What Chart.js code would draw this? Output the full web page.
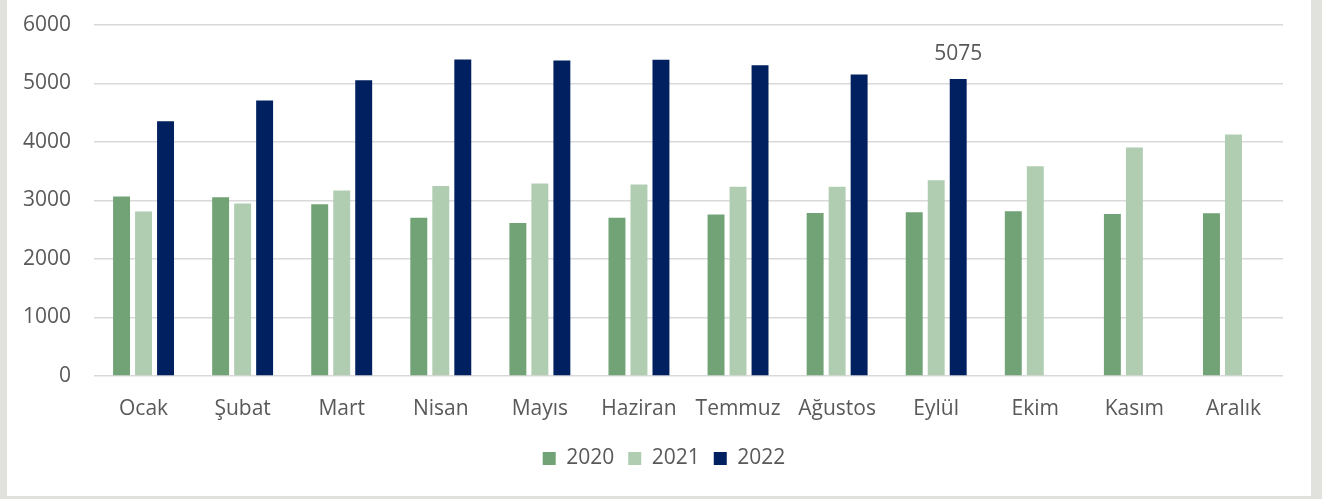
<!DOCTYPE html>
<html>
<head>
<meta charset="utf-8">
<script src="https://cdn.jsdelivr.net/npm/chart.js@4/dist/chart.umd.min.js"></script>
<style>
  html, body { margin: 0; padding: 0; background: #e1e1dd; width: 1322px; height: 499px; overflow: hidden; }
  #card { position: absolute; left: 7px; top: 0; width: 1304px; height: 496px; background: #ffffff; }
  canvas { display: block; }
</style>
</head>
<body>
<div id="card"><canvas id="c" width="1304" height="496"></canvas></div>
<script>
const categories = ["Ocak", "Şubat", "Mart", "Nisan", "Mayıs", "Haziran", "Temmuz", "Ağustos", "Eylül", "Ekim", "Kasım", "Aralık"];
const seriesNames = ["2020", "2021", "2022"];
const values2020 = [3070, 3055, 2935, 2705, 2615, 2705, 2760, 2785, 2800, 2815, 2770, 2780];
const values2021 = [2810, 2950, 3170, 3250, 3290, 3275, 3235, 3235, 3345, 3585, 3905, 4130];
const values2022 = [4355, 4710, 5055, 5410, 5395, 5405, 5310, 5155, 5075, null, null, null];
const yTicks = [0, 1000, 2000, 3000, 4000, 5000, 6000];
const labelledPoint = { dataset: 2, index: 8 };

const colors = ["#71a376", "#b0cdb1", "#002060"];
const textColor = "#595959";
const fontFamily = "'Open Sans', 'Noto Sans', sans-serif";
const fontSize = 21;

const dataLabelPlugin = {
  id: "dataLabel",
  afterDatasetsDraw(chart) {
    const meta = chart.getDatasetMeta(labelledPoint.dataset);
    const el = meta.data[labelledPoint.index];
    const v = chart.data.datasets[labelledPoint.dataset].data[labelledPoint.index];
    const ctx = chart.ctx;
    ctx.save();
    ctx.fillStyle = textColor;
    ctx.font = fontSize + "px " + fontFamily;
    ctx.textAlign = "center";
    ctx.textBaseline = "middle";
    ctx.fillText(String(v), el.x, el.y - 25);
    ctx.restore();
  }
};

new Chart(document.getElementById("c"), {
  type: "bar",
  data: {
    labels: categories,
    datasets: [
      { label: seriesNames[0], data: values2020, backgroundColor: colors[0] },
      { label: seriesNames[1], data: values2021, backgroundColor: colors[1] },
      { label: seriesNames[2], data: values2022, backgroundColor: colors[2] }
    ]
  },
  options: {
    responsive: false,
    animation: false,
    devicePixelRatio: 1,
    categoryPercentage: 0.666,
    barPercentage: 0.77,
    layout: { padding: { left: 10, right: 0, top: 25, bottom: 17 } },
    plugins: {
      legend: {
        position: "bottom",
        labels: {
          boxWidth: 13,
          boxHeight: 13,
          padding: 14,
          color: textColor,
          font: { family: fontFamily, size: fontSize }
        }
      },
      tooltip: { enabled: false },
      title: { display: false }
    },
    scales: {
      x: {
        afterFit(scale) { scale.height = 58; scale.paddingLeft = 0; scale.paddingRight = 0; },
        grid: { display: false, drawTicks: false },
        border: { display: false },
        ticks: { color: textColor, padding: 20, font: { family: fontFamily, size: fontSize }, maxRotation: 0, autoSkip: false }
      },
      y: {
        min: 0,
        max: 6000,
        afterFit(scale) { scale.width = 77; scale.paddingTop = 0; scale.paddingBottom = 0; },
        afterBuildTicks(scale) { scale.ticks = yTicks.map(v => ({ value: v })); },
        grid: { color: "#d9d9d9", lineWidth: 1.5, drawTicks: false },
        border: { display: false },
        ticks: {
          color: textColor, padding: 23, font: { family: fontFamily, size: fontSize },
          callback: (v) => String(v)
        }
      },
      yRight: {
        position: "right",
        min: 0,
        max: 6000,
        afterFit(scale) { scale.width = 28; scale.paddingTop = 0; scale.paddingBottom = 0; },
        grid: { display: false, drawTicks: false },
        border: { display: false },
        ticks: { display: false }
      }
    }
  },
  plugins: [dataLabelPlugin]
});
</script>
</body>
</html>
